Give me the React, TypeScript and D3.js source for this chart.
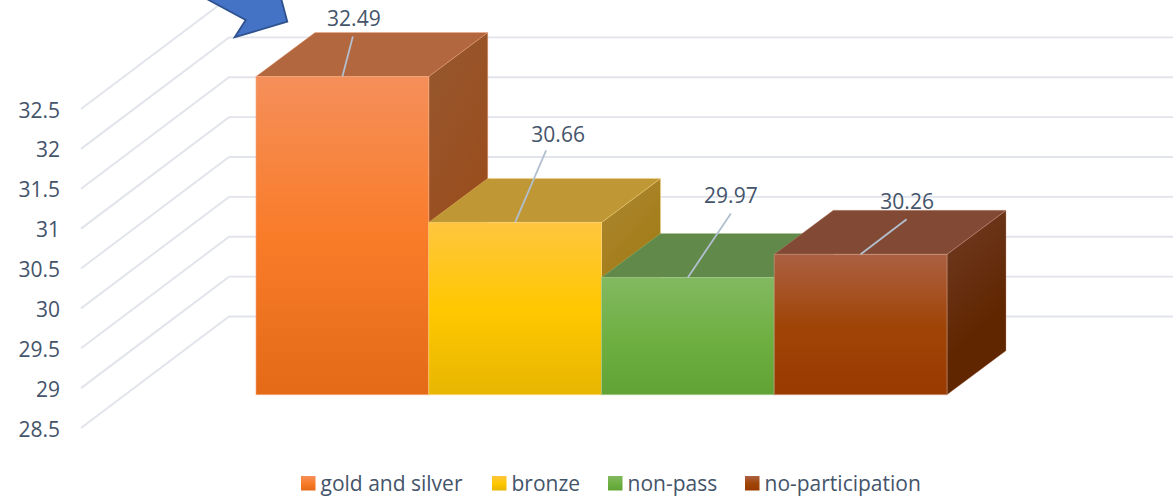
import React from "react";
import * as d3 from "d3";

const categories = ["gold and silver", "bronze", "non-pass", "no-participation"];
const values = [32.49, 30.66, 29.97, 30.26];
const valueLabels = ["32.49", "30.66", "29.97", "30.26"];
const ticks = [28.5, 29, 29.5, 30, 30.5, 31, 31.5, 32, 32.5];
const legendX = [301, 492, 608, 745];
const labelOffsetX = [11.5, 43, 43, 46.5];
const labelOffsetY = [-58.5, -88, -82, -52.5];
const leaderDX = [10.5, 31, 43, 46];
const leaderDY = [-40, -72, -64, -35];

const palettes = [
  { front: ["#F58F5A", "#F97C29", "#E46A17"], top: "#B3673E", side: ["#96582F", "#9B4C1B"], edge: "#F7A77B" },
  { front: ["#FFC53F", "#FFC800", "#E8B602"], top: "#BF9735", side: ["#AC8632", "#A07A0E"], edge: "#FFD97A" },
  { front: ["#82B961", "#70B043", "#61A335"], top: "#60894A", side: ["#4F7A38", "#4A7428"], edge: "#A6CC8E" },
  { front: ["#AC6042", "#A04508", "#993A00"], top: "#824935", side: ["#713C26", "#602600"], edge: "#C89680" },
];

const W = 1173;
const H = 498;
const textColor = "#44546A";
const font = "'Open Sans', sans-serif";

export default function App() {
  // Front plane of the bars
  const y = d3.scaleLinear().domain([28.5, 32.49]).range([394.7, 76.5]);
  const x = d3.scaleBand<string>().domain(categories).range([256, 947]).padding(0);
  // Floor/wall projection
  const wallFrontY = (v: number) => 428 - (y(28.5) - y(v));
  const wallDX = 148;
  const wallDY = 111.5;
  const barDX = 59;
  const barDY = 44;

  return (
    <svg width={W} height={H} style={{ position: "absolute", left: 0, top: 0, background: "#fff" }}>
      <defs>
        {palettes.map((p, i) => (
          <React.Fragment key={i}>
            <linearGradient id={`f${i}`} x1="0" y1="0" x2="0" y2="1">
              <stop offset="0" stopColor={p.front[0]} />
              <stop offset="0.5" stopColor={p.front[1]} />
              <stop offset="1" stopColor={p.front[2]} />
            </linearGradient>
            <linearGradient id={`s${i}`} x1="0" y1="0" x2="0.3" y2="1">
              <stop offset="0" stopColor={p.side[0]} />
              <stop offset="0.75" stopColor={p.side[1]} />
              <stop offset="1" stopColor={p.side[1]} />
            </linearGradient>
          </React.Fragment>
        ))}
      </defs>

      {ticks.map((t) => {
        const fy = wallFrontY(t);
        const by = fy - wallDY;
        return (
          <g key={t}>
            <polyline
              points={`81,${fy} ${81 + wallDX},${by} ${W},${by}`}
              fill="none"
              stroke="#E1E4EA"
              strokeWidth={1.9}
            />
            <text
              x={60}
              y={fy + 8.5}
              textAnchor="end"
              fontFamily={font}
              fontSize={21}
              fill={textColor}
            >
              {t}
            </text>
          </g>
        );
      })}

      {categories.map((c, i) => {
        const x0 = x(c)!;
        const x1 = x0 + x.bandwidth();
        const yt = y(values[i]);
        const yb = y(28.5);
        const p = palettes[i];
        return (
          <g key={c}>
            <polygon
              points={`${x1},${yt} ${x1 + barDX},${yt - barDY} ${x1 + barDX},${yb - barDY} ${x1},${yb}`}
              fill={`url(#s${i})`}
              stroke={p.edge}
              strokeOpacity={0.35}
              strokeWidth={1}
            />
            <polygon
              points={`${x0},${yt} ${x0 + barDX},${yt - barDY} ${x1 + barDX},${yt - barDY} ${x1},${yt}`}
              fill={p.top}
              stroke={p.edge}
              strokeOpacity={0.35}
              strokeWidth={1}
            />
            <rect
              x={x0}
              y={yt}
              width={x.bandwidth()}
              height={yb - yt}
              fill={`url(#f${i})`}
              stroke={p.edge}
              strokeOpacity={0.6}
              strokeWidth={1}
            />
          </g>
        );
      })}

      {categories.map((c, i) => {
        const cx = x(c)! + x.bandwidth() / 2;
        const yt = y(values[i]);
        return (
          <g key={c}>
            <line
              x1={cx}
              y1={yt}
              x2={cx + leaderDX[i]}
              y2={yt + leaderDY[i]}
              stroke="#B2BFCE"
              strokeWidth={1.8}
            />
            <text
              x={cx + labelOffsetX[i]}
              y={yt + labelOffsetY[i] + 7.5}
              textAnchor="middle"
              fontFamily={font}
              fontSize={21}
              fill={textColor}
            >
              {valueLabels[i]}
            </text>
          </g>
        );
      })}

      <polygon
        points="205,-2 245.7,20 234.7,37.3 287.3,21.7 281,-2"
        fill="#4472C4"
        stroke="#2F528F"
        strokeWidth={1.8}
      />

      {categories.map((c, i) => (
        <g key={c}>
          <rect x={legendX[i]} y={476} width={14.5} height={14.5} fill={`url(#f${i})`} />
          <text
            x={legendX[i] + 19.5}
            y={490.5}
            fontFamily={font}
            fontSize={21}
            fill={textColor}
          >
            {c}
          </text>
        </g>
      ))}
    </svg>
  );
}
